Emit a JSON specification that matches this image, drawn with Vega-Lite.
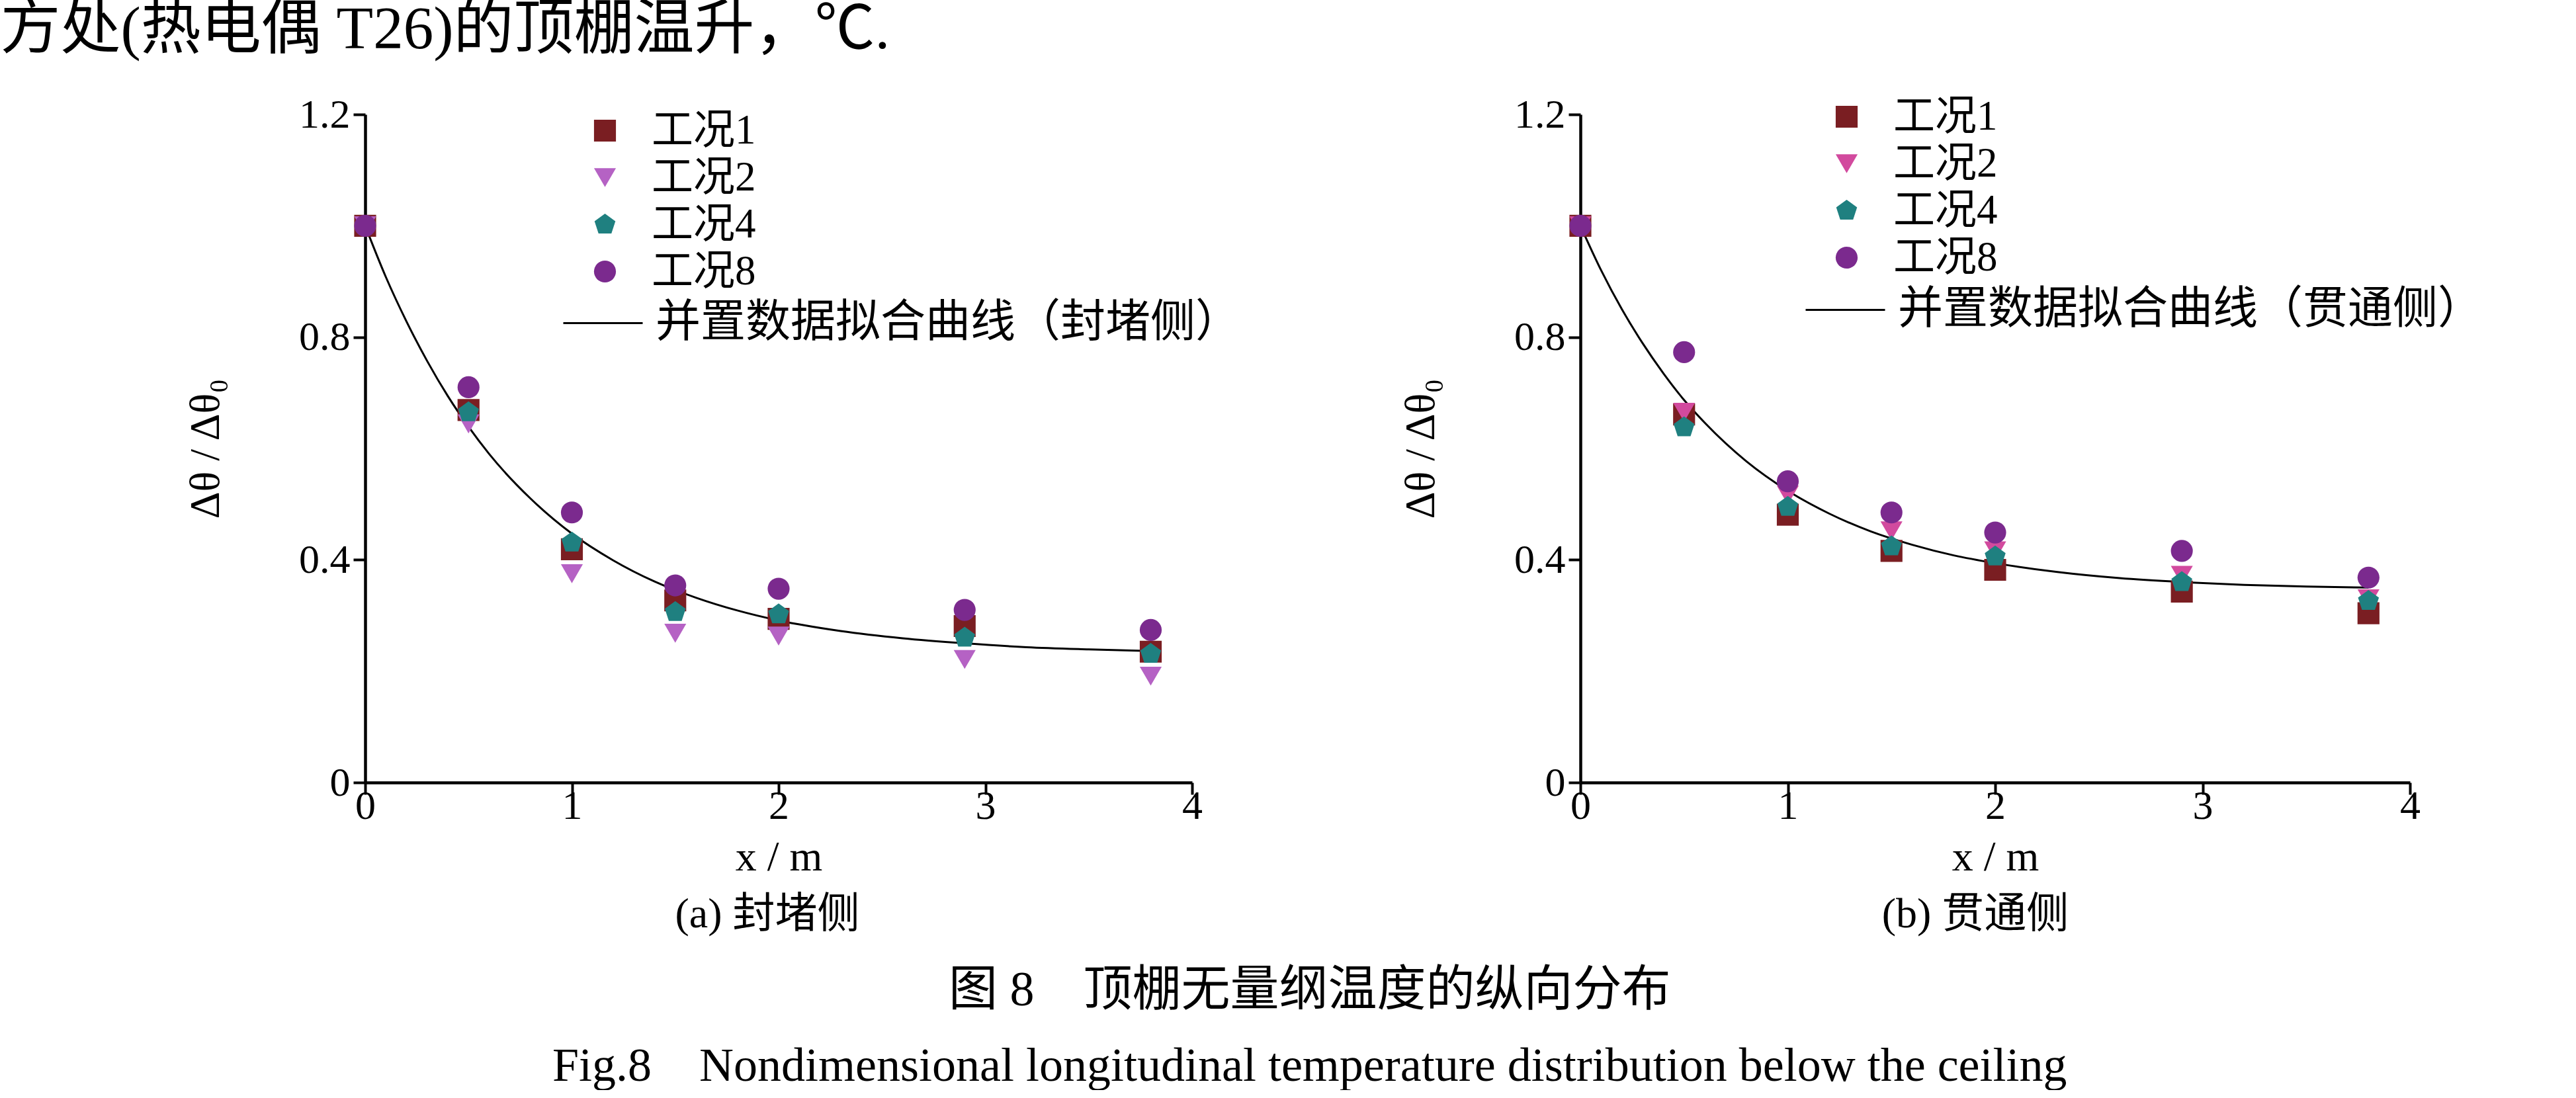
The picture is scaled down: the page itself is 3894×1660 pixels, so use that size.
{
  "$schema": "https://vega.github.io/schema/vega-lite/v6.json",
  "padding": 0,
  "background": "white",
  "config": {
    "view": {"stroke": null},
    "font": "Liberation Serif, Noto Sans CJK SC",
    "axis": {
      "grid": false,
      "domainColor": "black",
      "domainWidth": 4.5,
      "tickColor": "black",
      "tickWidth": 4,
      "tickSize": 18,
      "labelFont": "Liberation Serif",
      "labelFontSize": 62,
      "labelColor": "black",
      "labelFlush": false,
      "titleFont": "Liberation Serif",
      "titleFontSize": 64,
      "titleFontWeight": "normal",
      "titleColor": "black"
    },
    "legend": {
      "labelFont": "Liberation Serif, Noto Sans CJK SC",
      "labelFontSize": 63,
      "labelColor": "black",
      "labelLimit": 2000,
      "padding": 0
    },
    "title": {"fontWeight": "normal", "color": "black", "font": "Liberation Serif, Noto Sans CJK SC"}
  },
  "title": {
    "text": "方处(热电偶 T26)的顶棚温升，℃.",
    "anchor": "start",
    "frame": "bounds",
    "dx": -279,
    "fontSize": 91,
    "offset": 50
  },
  "datasets": {
    "leftPts": [
      {"x": 0, "y": 1.0, "series": "工况1"}, {"x": 0.5, "y": 0.669, "series": "工况1"}, {"x": 1, "y": 0.419, "series": "工况1"}, {"x": 1.5, "y": 0.327, "series": "工况1"}, {"x": 2, "y": 0.294, "series": "工况1"}, {"x": 2.9, "y": 0.281, "series": "工况1"}, {"x": 3.8, "y": 0.235, "series": "工况1"},
      {"x": 0, "y": 1.0, "series": "工况2"}, {"x": 0.5, "y": 0.644, "series": "工况2"}, {"x": 1, "y": 0.375, "series": "工况2"}, {"x": 1.5, "y": 0.268, "series": "工况2"}, {"x": 2, "y": 0.263, "series": "工况2"}, {"x": 2.9, "y": 0.221, "series": "工况2"}, {"x": 3.8, "y": 0.191, "series": "工况2"},
      {"x": 0, "y": 1.0, "series": "工况4"}, {"x": 0.5, "y": 0.665, "series": "工况4"}, {"x": 1, "y": 0.431, "series": "工况4"}, {"x": 1.5, "y": 0.306, "series": "工况4"}, {"x": 2, "y": 0.302, "series": "工况4"}, {"x": 2.9, "y": 0.26, "series": "工况4"}, {"x": 3.8, "y": 0.231, "series": "工况4"},
      {"x": 0, "y": 1.0, "series": "工况8"}, {"x": 0.5, "y": 0.71, "series": "工况8"}, {"x": 1, "y": 0.485, "series": "工况8"}, {"x": 1.5, "y": 0.354, "series": "工况8"}, {"x": 2, "y": 0.348, "series": "工况8"}, {"x": 2.9, "y": 0.31, "series": "工况8"}, {"x": 3.8, "y": 0.274, "series": "工况8"}
    ],
    "rightPts": [
      {"x": 0, "y": 1.0, "series": "工况1"}, {"x": 0.5, "y": 0.661, "series": "工况1"}, {"x": 1, "y": 0.481, "series": "工况1"}, {"x": 1.5, "y": 0.416, "series": "工况1"}, {"x": 2, "y": 0.382, "series": "工况1"}, {"x": 2.9, "y": 0.343, "series": "工况1"}, {"x": 3.8, "y": 0.304, "series": "工况1"},
      {"x": 0, "y": 1.0, "series": "工况2"}, {"x": 0.5, "y": 0.665, "series": "工况2"}, {"x": 1, "y": 0.516, "series": "工况2"}, {"x": 1.5, "y": 0.452, "series": "工况2"}, {"x": 2, "y": 0.416, "series": "工况2"}, {"x": 2.9, "y": 0.372, "series": "工况2"}, {"x": 3.8, "y": 0.33, "series": "工况2"},
      {"x": 0, "y": 1.0, "series": "工况4"}, {"x": 0.5, "y": 0.638, "series": "工况4"}, {"x": 1, "y": 0.495, "series": "工况4"}, {"x": 1.5, "y": 0.424, "series": "工况4"}, {"x": 2, "y": 0.406, "series": "工况4"}, {"x": 2.9, "y": 0.36, "series": "工况4"}, {"x": 3.8, "y": 0.326, "series": "工况4"},
      {"x": 0, "y": 1.0, "series": "工况8"}, {"x": 0.5, "y": 0.773, "series": "工况8"}, {"x": 1, "y": 0.541, "series": "工况8"}, {"x": 1.5, "y": 0.485, "series": "工况8"}, {"x": 2, "y": 0.449, "series": "工况8"}, {"x": 2.9, "y": 0.416, "series": "工况8"}, {"x": 3.8, "y": 0.368, "series": "工况8"}
    ],
    "leftFit": [
      {"x": 0, "y": 1.0, "curve": "并置数据拟合曲线（封堵侧）"}, {"x": 0.1, "y": 0.908, "curve": "并置数据拟合曲线（封堵侧）"}, {"x": 0.2, "y": 0.828, "curve": "并置数据拟合曲线（封堵侧）"}, {"x": 0.3, "y": 0.757, "curve": "并置数据拟合曲线（封堵侧）"}, {"x": 0.4, "y": 0.694, "curve": "并置数据拟合曲线（封堵侧）"}, {"x": 0.5, "y": 0.639, "curve": "并置数据拟合曲线（封堵侧）"}, {"x": 0.6, "y": 0.59, "curve": "并置数据拟合曲线（封堵侧）"}, {"x": 0.8, "y": 0.51, "curve": "并置数据拟合曲线（封堵侧）"}, {"x": 1.0, "y": 0.447, "curve": "并置数据拟合曲线（封堵侧）"}, {"x": 1.2, "y": 0.399, "curve": "并置数据拟合曲线（封堵侧）"}, {"x": 1.4, "y": 0.361, "curve": "并置数据拟合曲线（封堵侧）"}, {"x": 1.6, "y": 0.332, "curve": "并置数据拟合曲线（封堵侧）"}, {"x": 1.8, "y": 0.309, "curve": "并置数据拟合曲线（封堵侧）"}, {"x": 2.0, "y": 0.291, "curve": "并置数据拟合曲线（封堵侧）"}, {"x": 2.3, "y": 0.272, "curve": "并置数据拟合曲线（封堵侧）"}, {"x": 2.6, "y": 0.259, "curve": "并置数据拟合曲线（封堵侧）"}, {"x": 2.9, "y": 0.25, "curve": "并置数据拟合曲线（封堵侧）"}, {"x": 3.2, "y": 0.243, "curve": "并置数据拟合曲线（封堵侧）"}, {"x": 3.5, "y": 0.239, "curve": "并置数据拟合曲线（封堵侧）"}, {"x": 3.8, "y": 0.236, "curve": "并置数据拟合曲线（封堵侧）"}
    ],
    "rightFit": [
      {"x": 0, "y": 1.0, "curve": "并置数据拟合曲线（贯通侧）"}, {"x": 0.1, "y": 0.92, "curve": "并置数据拟合曲线（贯通侧）"}, {"x": 0.2, "y": 0.85, "curve": "并置数据拟合曲线（贯通侧）"}, {"x": 0.3, "y": 0.789, "curve": "并置数据拟合曲线（贯通侧）"}, {"x": 0.4, "y": 0.735, "curve": "并置数据拟合曲线（贯通侧）"}, {"x": 0.5, "y": 0.687, "curve": "并置数据拟合曲线（贯通侧）"}, {"x": 0.6, "y": 0.646, "curve": "并置数据拟合曲线（贯通侧）"}, {"x": 0.8, "y": 0.577, "curve": "并置数据拟合曲线（贯通侧）"}, {"x": 1.0, "y": 0.524, "curve": "并置数据拟合曲线（贯通侧）"}, {"x": 1.2, "y": 0.483, "curve": "并置数据拟合曲线（贯通侧）"}, {"x": 1.4, "y": 0.451, "curve": "并置数据拟合曲线（贯通侧）"}, {"x": 1.6, "y": 0.427, "curve": "并置数据拟合曲线（贯通侧）"}, {"x": 1.8, "y": 0.408, "curve": "并置数据拟合曲线（贯通侧）"}, {"x": 2.0, "y": 0.394, "curve": "并置数据拟合曲线（贯通侧）"}, {"x": 2.3, "y": 0.378, "curve": "并置数据拟合曲线（贯通侧）"}, {"x": 2.6, "y": 0.367, "curve": "并置数据拟合曲线（贯通侧）"}, {"x": 2.9, "y": 0.36, "curve": "并置数据拟合曲线（贯通侧）"}, {"x": 3.2, "y": 0.355, "curve": "并置数据拟合曲线（贯通侧）"}, {"x": 3.5, "y": 0.352, "curve": "并置数据拟合曲线（贯通侧）"}, {"x": 3.8, "y": 0.35, "curve": "并置数据拟合曲线（贯通侧）"}
    ]
  },
  "vconcat": [
    {
      "title": {
        "text": "图 8　顶棚无量纲温度的纵向分布",
        "subtitle": "Fig.8　Nondimensional longitudinal temperature distribution below the ceiling",
        "orient": "bottom",
        "anchor": "middle",
        "frame": "bounds",
        "dx": -37,
        "fontSize": 74,
        "subtitleFontSize": 72,
        "subtitleFont": "Liberation Serif, Noto Sans CJK SC",
        "subtitleColor": "black",
        "subtitlePadding": 41,
        "offset": 47
      },
      "spacing": 240,
      "resolve": {
        "scale": {"fill": "independent", "shape": "independent", "stroke": "independent"},
        "legend": {"fill": "independent", "shape": "independent", "stroke": "independent"}
      },
      "hconcat": [
        {
          "width": 1250,
          "height": 1010,
          "title": {"text": "(a) 封堵侧", "orient": "bottom", "anchor": "middle", "frame": "group", "dx": -17, "fontSize": 64, "offset": 23},
          "layer": [
            {
              "data": {"name": "leftFit"},
              "mark": {"type": "line", "strokeWidth": 3, "interpolate": "monotone"},
              "encoding": {
                "x": {"field": "x", "type": "quantitative", "scale": {"domain": [0, 4], "nice": false}, "axis": {"values": [0, 1, 2, 3, 4], "format": "~g", "title": "x / m", "titlePadding": 15, "labelPadding": -13, "encode": {"ticks": {"update": {"y2": {"value": -18}}}}}},
                "y": {"field": "y", "type": "quantitative", "scale": {"domain": [0, 1.2], "nice": false}, "axis": {"values": [0, 0.4, 0.8, 1.2], "format": "~g", "title": "Δθ / Δθ₀", "titlePadding": 108, "labelPadding": 5, "encode": {"ticks": {"update": {"x2": {"value": 18}}}}}},
                "stroke": {"field": "curve", "type": "nominal", "scale": {"range": ["black"]}, "legend": {"orient": "none", "legendX": 298, "legendY": 254, "title": null, "symbolType": "stroke", "symbolSize": 14400, "symbolStrokeWidth": 3, "labelOffset": 18, "labelFontSize": 68}}
              }
            },
            {
              "data": {"name": "leftPts"},
              "mark": {"type": "point", "filled": true, "size": 1100, "opacity": 1, "strokeWidth": 0},
              "encoding": {
                "x": {"field": "x", "type": "quantitative"},
                "y": {"field": "y", "type": "quantitative"},
                "fill": {"field": "series", "type": "nominal", "scale": {"domain": ["工况1", "工况2", "工况4", "工况8"], "range": ["#7a1e22", "#b562c4", "#1f8080", "#7b2a8e"]}, "legend": {"orient": "none", "legendX": 331, "legendY": -7, "title": null, "symbolSize": 1100, "labelOffset": 39, "rowPadding": 7}},
                "shape": {"field": "series", "type": "nominal", "scale": {"domain": ["工况1", "工况2", "工况4", "工况8"], "range": ["square", "triangle-down", "M0,-1L0.951,-0.309L0.588,0.809L-0.588,0.809L-0.951,-0.309Z", "circle"]}, "legend": {"orient": "none", "legendX": 331, "legendY": -7, "title": null, "symbolSize": 1100, "labelOffset": 39, "rowPadding": 7}}
              }
            }
          ]
        },
        {
          "width": 1254,
          "height": 1010,
          "title": {"text": "(b) 贯通侧", "orient": "bottom", "anchor": "middle", "frame": "group", "dx": -30, "fontSize": 64, "offset": 23},
          "layer": [
            {
              "data": {"name": "rightFit"},
              "mark": {"type": "line", "strokeWidth": 3, "interpolate": "monotone"},
              "encoding": {
                "x": {"field": "x", "type": "quantitative", "scale": {"domain": [0, 4], "nice": false}, "axis": {"values": [0, 1, 2, 3, 4], "format": "~g", "title": "x / m", "titlePadding": 15, "labelPadding": -13, "encode": {"ticks": {"update": {"y2": {"value": -18}}}}}},
                "y": {"field": "y", "type": "quantitative", "scale": {"domain": [0, 1.2], "nice": false}, "axis": {"values": [0, 0.4, 0.8, 1.2], "format": "~g", "title": "Δθ / Δθ₀", "titlePadding": 108, "labelPadding": 5, "encode": {"ticks": {"update": {"x2": {"value": 18}}}}}},
                "stroke": {"field": "curve", "type": "nominal", "scale": {"range": ["black"]}, "legend": {"orient": "none", "legendX": 339, "legendY": 234, "title": null, "symbolType": "stroke", "symbolSize": 14400, "symbolStrokeWidth": 3, "labelOffset": 18, "labelFontSize": 68}}
              }
            },
            {
              "data": {"name": "rightPts"},
              "mark": {"type": "point", "filled": true, "size": 1100, "opacity": 1, "strokeWidth": 0},
              "encoding": {
                "x": {"field": "x", "type": "quantitative"},
                "y": {"field": "y", "type": "quantitative"},
                "fill": {"field": "series", "type": "nominal", "scale": {"domain": ["工况1", "工况2", "工况4", "工况8"], "range": ["#7a1e22", "#d24a9e", "#1f8080", "#7b2a8e"]}, "legend": {"orient": "none", "legendX": 371, "legendY": -28, "title": null, "symbolSize": 1100, "labelOffset": 39, "rowPadding": 7}},
                "shape": {"field": "series", "type": "nominal", "scale": {"domain": ["工况1", "工况2", "工况4", "工况8"], "range": ["square", "triangle-down", "M0,-1L0.951,-0.309L0.588,0.809L-0.588,0.809L-0.951,-0.309Z", "circle"]}, "legend": {"orient": "none", "legendX": 371, "legendY": -28, "title": null, "symbolSize": 1100, "labelOffset": 39, "rowPadding": 7}}
              }
            }
          ]
        }
      ]
    }
  ]
}
